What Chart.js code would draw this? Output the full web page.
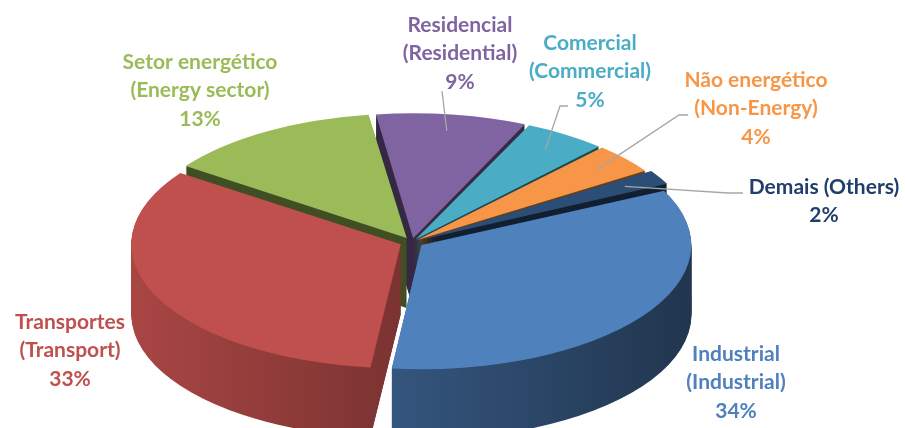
<!DOCTYPE html>
<html>
<head>
<meta charset="utf-8">
<script src="https://cdn.jsdelivr.net/npm/chart.js@4.4.1/dist/chart.umd.min.js"></script>
<style>
  html, body { margin: 0; padding: 0; background: #fff; overflow: hidden; }
  #wrap { width: 905px; height: 428px; }
</style>
</head>
<body>
<div id="wrap"><canvas id="graficoPizza" width="905" height="428"></canvas></div>
<script>
// dados
const setores = ['Industrial', 'Transportes', 'Setor energético', 'Residencial', 'Comercial', 'Não energético', 'Demais (Others)'];
const setoresEn = ['(Industrial)', '(Transport)', '(Energy sector)', '(Residential)', '(Commercial)', '(Non-Energy)', ''];
const percentuais = [34, 33, 13, 9, 5, 4, 2];

const cores = ['#4F81BD', '#C0504D', '#9BBB59', '#8064A2', '#4BACC6', '#F79646', '#2C4D75'];
const coresTexto = ['#4F81BD', '#C0504D', '#9BBB59', '#8064A2', '#4BACC6', '#F79646', '#1F3F6A'];

// layout da pizza 3D (tela)
const centro = { x: 412, y: 242 };
const raioX = 268;
const achat = 0.46;       // achatamento vertical
const profundidade = 70;  // espessura em px
const afastamento = [34, 36, 30, 24, 20, 20, 26];

// posicao dos rotulos (centro da 1a linha) e linhas guia
const rotulos = [
  { x: 736, y: 354 },
  { x: 70, y: 322 },
  { x: 200, y: 62 },
  { x: 460, y: 25, guia: [[442, 91]] },
  { x: 590, y: 43, guia: [[568, 106], [560, 106]] },
  { x: 756, y: 80, guia: [[688, 115], [679, 115]] },
  { x: 824, y: 187, guia: [[743, 193], [728, 193]] }
];

function escurece(hex, f) {
  const n = parseInt(hex.slice(1), 16);
  const r = Math.round(((n >> 16) & 255) * f);
  const g = Math.round(((n >> 8) & 255) * f);
  const b = Math.round((n & 255) * f);
  return 'rgb(' + r + ',' + g + ',' + b + ')';
}

function escala(arc) {
  const sx = raioX / arc.outerRadius;
  return { sx: sx, sy: sx * achat };
}

function aplicaTransform(ctx, arc) {
  const s = escala(arc);
  ctx.translate(centro.x, centro.y);
  ctx.scale(s.sx, s.sy);
  ctx.translate(-arc.x, -arc.y);
}

// converte ponto do grafico pra tela
function paraTela(arc, px, py) {
  const s = escala(arc);
  return [centro.x + (px - arc.x) * s.sx, centro.y + (py - arc.y) * s.sy];
}

const pizza3d = {
  id: 'pizza3d',
  beforeDatasetsDraw(chart) {
    const ctx = chart.ctx;
    const arcs = chart.getDatasetMeta(0).data;
    const s = escala(arcs[0]);
    ctx.save();
    aplicaTransform(ctx, arcs[0]);

    // laterais, de tras pra frente
    const ordem = arcs.map((a, i) => i).sort((a, b) => {
      const ma = (arcs[a].startAngle + arcs[a].endAngle) / 2;
      const mb = (arcs[b].startAngle + arcs[b].endAngle) / 2;
      return Math.sin(ma) - Math.sin(mb);
    });
    const a0 = arcs[0];
    ordem.forEach(i => {
      const arc = arcs[i];
      const meio = (arc.startAngle + arc.endAngle) / 2;
      const fundo = Math.sin(meio) < 0;
      let preenche;
      if (fundo) {
        preenche = escurece(cores[i], 0.42);
      } else {
        preenche = ctx.createLinearGradient(a0.x - a0.outerRadius, 0, a0.x + a0.outerRadius, 0);
        preenche.addColorStop(0, escurece(cores[i], 0.88));
        preenche.addColorStop(0.45, escurece(cores[i], 0.66));
        preenche.addColorStop(1, escurece(cores[i], 0.42));
      }
      const orig = arc.options;
      arc.options = Object.assign({}, orig, { backgroundColor: preenche, borderWidth: 0 });
      for (let t = profundidade; t > 0; t--) {
        ctx.save();
        ctx.translate(0, t / s.sy);
        arc.draw(ctx);
        ctx.restore();
      }
      arc.options = orig;
    });
  },
  afterDatasetsDraw(chart) {
    chart.ctx.restore();
  },
  afterDraw(chart) {
    const ctx = chart.ctx;
    const arcs = chart.getDatasetMeta(0).data;
    ctx.save();
    ctx.font = 'bold 21px Lato';
    ctx.textAlign = 'center';
    ctx.textBaseline = 'middle';
    rotulos.forEach((r, i) => {
      const linhas = [setores[i]];
      if (setoresEn[i]) linhas.push(setoresEn[i]);
      linhas.push(percentuais[i] + '%');
      ctx.fillStyle = coresTexto[i];
      linhas.forEach((l, k) => ctx.fillText(l, r.x, r.y + k * 28.5));

      if (r.guia) {
        const arc = arcs[i];
        const meio = (arc.startAngle + arc.endAngle) / 2;
        const desl = (arc.options.offset || 0) / 4;
        const rr = arc.outerRadius * 0.88 + desl;
        const fim = paraTela(arc, arc.x + Math.cos(meio) * rr, arc.y + Math.sin(meio) * rr);
        ctx.strokeStyle = '#A6A6A6';
        ctx.lineWidth = 1.3;
        ctx.beginPath();
        ctx.moveTo(r.guia[0][0], r.guia[0][1]);
        r.guia.slice(1).forEach(p => ctx.lineTo(p[0], p[1]));
        ctx.lineTo(fim[0], fim[1]);
        ctx.stroke();
      }
    });
    ctx.restore();
  }
};

const ctxPizza = document.getElementById('graficoPizza').getContext('2d');
const graficoPizza = new Chart(ctxPizza, {
  type: 'pie',
  data: {
    labels: setores,
    datasets: [{
      data: percentuais,
      backgroundColor: cores,
      borderWidth: 0,
      offset: afastamento,
      clip: false
    }]
  },
  options: {
    responsive: false,
    animation: false,
    rotation: 64,
    layout: { padding: 0 },
    plugins: {
      legend: { display: false },
      tooltip: { enabled: false }
    }
  },
  plugins: [pizza3d]
});
</script>
</body>
</html>
